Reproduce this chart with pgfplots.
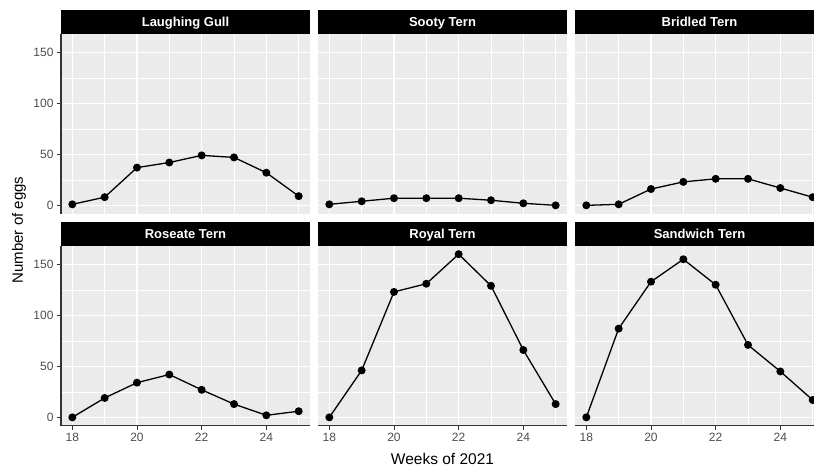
\documentclass[border=0pt]{standalone}
\usepackage{pgfplots}
\pgfplotsset{compat=1.18}
\usepackage{fontspec}
\setmainfont{Liberation Sans}
\definecolor{panelbg}{HTML}{EBEBEB}
\definecolor{ticklab}{HTML}{4D4D4D}
\definecolor{tickcol}{HTML}{333333}
\pgfplotsset{
  facet/.style={
    scale only axis, width=249pt, height=179.5pt,
    xmin=17.65, xmax=25.35, ymin=-8, ymax=168,
    axis background/.style={fill=panelbg},
    axis line style={draw=none},
    xtick={18,20,22,24}, minor xtick={19,21,23,25},
    ytick={0,50,100,150}, minor ytick={25,75,125},
    xticklabels={}, yticklabels={},
    grid=both,
    major grid style={white, line width=1.1pt},
    minor grid style={white, line width=0.55pt},
    major tick length=0pt, minor tick length=0pt,
    tick align=outside, xtick pos=bottom, ytick pos=left,
    tick style={tickcol, line width=0.9pt},
    /pgf/number format/assume math mode=true,
    ticklabel style={font=\fontsize{12}{12}\selectfont, text=ticklab},
    every axis title shift=0pt,
    title style={at={(0.5,1)}, anchor=south, fill=black, text=white,
      font=\bfseries\fontsize{13}{13}\selectfont, minimum width=249pt,
      minimum height=24pt, inner sep=0pt, outer sep=0pt, yshift=0pt,
      text height=9.3pt, text depth=0pt},
    clip=false,
  },
  lefty/.style={yticklabels={0,50,100,150}, major tick length=4pt},
  botx/.style={xticklabels={18,20,22,24}, major tick length=4pt},
  ser/.style={black, line width=1.3pt, mark=*, mark size=3.3pt, mark options={solid}},
}
\pgfplotstableread{
wk gull sooty bridled roseate royal sandwich
18 1 1 0 0 0 0
19 8 4 1 19 46 87
20 37 7 16 34 123 133
21 42 7 23 42 131 155
22 49 7 26 27 160 130
23 47 5 26 13 129 71
24 32 2 17 2 66 45
25 9 0 8 6 13 17
}\eggs
\begin{document}
\begin{tikzpicture}
\useasboundingbox (0,0) rectangle (814pt,-466pt);
\clip (0,0) rectangle (814pt,-466pt);
% top row
\begin{axis}[facet, lefty, xtick style={draw=none}, at={(61pt,-34pt)}, anchor=north west, title={Laughing Gull}]
\addplot[ser] table[x=wk,y=gull]{\eggs};
\draw[tickcol, line width=1.1pt] (rel axis cs:0,0) -- (rel axis cs:0,1);
\end{axis}
\begin{axis}[facet, at={(318pt,-34pt)}, anchor=north west, title={Sooty Tern}]
\addplot[ser] table[x=wk,y=sooty]{\eggs};
\end{axis}
\begin{axis}[facet, at={(575pt,-34pt)}, anchor=north west, title={Bridled Tern}]
\addplot[ser] table[x=wk,y=bridled]{\eggs};
\end{axis}
% bottom row
\begin{axis}[facet, lefty, botx, at={(61pt,-246pt)}, anchor=north west, title={Roseate Tern}]
\addplot[ser] table[x=wk,y=roseate]{\eggs};
\draw[tickcol, line width=1.1pt] (rel axis cs:0,0) -- (rel axis cs:0,1);
\draw[tickcol, line width=1.1pt] (rel axis cs:0,0) -- (rel axis cs:1,0);
\end{axis}
\begin{axis}[facet, botx, ytick style={draw=none}, at={(318pt,-246pt)}, anchor=north west, title={Royal Tern}]
\addplot[ser] table[x=wk,y=royal]{\eggs};
\draw[tickcol, line width=1.1pt] (rel axis cs:0,0) -- (rel axis cs:1,0);
\end{axis}
\begin{axis}[facet, botx, ytick style={draw=none}, at={(575pt,-246pt)}, anchor=north west, title={Sandwich Tern}]
\addplot[ser] table[x=wk,y=sandwich]{\eggs};
\draw[tickcol, line width=1.1pt] (rel axis cs:0,0) -- (rel axis cs:1,0);
\end{axis}
\node[font=\fontsize{15}{15}\selectfont, rotate=90] at (19pt,-230pt) {Number of eggs};
\node[font=\fontsize{15.5}{15.5}\selectfont, anchor=base, inner sep=0pt] at (442.5pt,-464pt) {Weeks of 2021};
\end{tikzpicture}
\end{document}
